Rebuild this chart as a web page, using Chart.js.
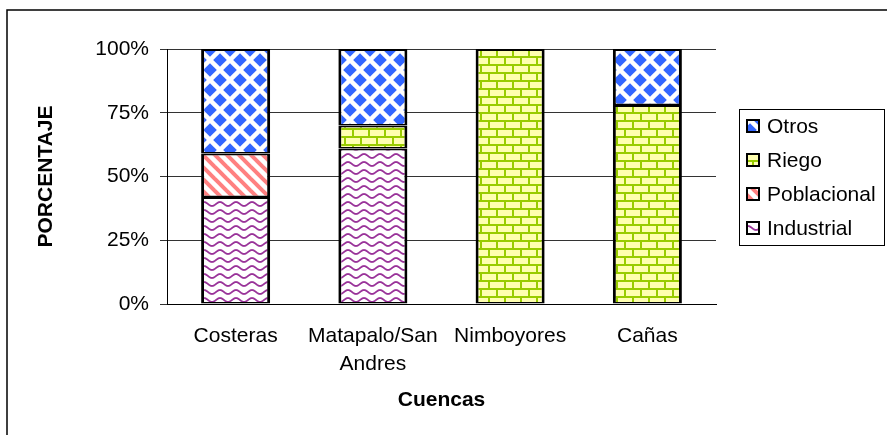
<!DOCTYPE html>
<html>
<head>
<meta charset="utf-8">
<script src="https://cdn.jsdelivr.net/npm/chart.js@4.4.0/dist/chart.umd.min.js"></script>
<style>
  body { margin: 0; background: #fff; }
  canvas { display: block; }
</style>
</head>
<body>
<canvas id="usoChart" width="887" height="435"></canvas>
<script>
// Uso del agua por cuenca (porcentaje)
const cuencas = ['Costeras', ['Matapalo/San', 'Andres'], 'Nimboyores', 'Cañas'];
const industrial = [42, 61, null, null];
const poblacional = [17, null, null, null];
const riego = [null, 9, 100, 78];
const otros = [41, 30, null, 22];
const yTicks = [0, 25, 50, 75, 100];

const family = "'Liberation Sans', Arial, sans-serif";

// small repeating tiles used as bar fills
function makeTile(w, h, draw) {
    const c = document.createElement('canvas');
    c.width = w;
    c.height = h;
    const g = c.getContext('2d');
    draw(g, w, h);
    return g.createPattern(c, 'repeat');
}

const otrosFill = makeTile(20, 20, (g, w, h) => {
    g.fillStyle = '#fff';
    g.fillRect(0, 0, w, h);
    g.fillStyle = '#3366ff';
    const d = 6.8;
    [[0, 0], [20, 0], [0, 20], [20, 20], [10, 10]].forEach(([cx, cy]) => {
        g.beginPath();
        g.moveTo(cx, cy - d);
        g.lineTo(cx + d, cy);
        g.lineTo(cx, cy + d);
        g.lineTo(cx - d, cy);
        g.closePath();
        g.fill();
    });
});

const poblacionalFill = makeTile(12, 12, (g, w, h) => {
    g.fillStyle = '#fff';
    g.fillRect(0, 0, w, h);
    g.strokeStyle = '#ff8080';
    g.lineWidth = 4;
    for (let k = -12; k <= 12; k += 12) {
        g.beginPath();
        g.moveTo(k - 2, -2);
        g.lineTo(k + 14, 14);
        g.stroke();
    }
});

const riegoFill = makeTile(16, 16, (g, w, h) => {
    g.fillStyle = '#ffffb0';
    g.fillRect(0, 0, w, h);
    g.fillStyle = '#99cc00';
    g.fillRect(0, 0, 16, 2);
    g.fillRect(0, 8, 16, 2);
    g.fillRect(0, 0, 2, 8);
    g.fillRect(8, 8, 2, 8);
});

const industrialFill = makeTile(16, 8, (g, w, h) => {
    g.fillStyle = '#fff';
    g.fillRect(0, 0, w, h);
    g.strokeStyle = '#993399';
    g.lineWidth = 1.8;
    g.beginPath();
    for (let x = -1; x <= 17; x += 0.5) {
        const y = 4 + 2 * Math.sin(x / 16 * 2 * Math.PI);
        if (x === -1) g.moveTo(x, y); else g.lineTo(x, y);
    }
    g.stroke();
});

// thinner top/bottom so the seams between stacked segments stay slim
const barStyle = {
    borderColor: '#000',
    borderWidth: { top: 2, bottom: 1.5, left: 3, right: 3 },
    borderSkipped: false,
    barPercentage: 1,
    categoryPercentage: 0.503
};

// legend box on the right plus the outer frame
const cajaLeyenda = {
    id: 'cajaLeyenda',
    afterDraw(chart) {
        const ctx = chart.ctx;
        ctx.save();
        ctx.strokeStyle = '#000';
        ctx.lineWidth = 1.5;
        ctx.strokeRect(7, 10, 900, 500);

        ctx.lineWidth = 1;
        ctx.strokeRect(739.5, 109.5, 145, 136);

        ctx.font = '21px ' + family;
        ctx.textBaseline = 'middle';
        chart.data.datasets.slice().reverse().forEach((ds, i) => {
            const y = 126 + i * 34;
            ctx.fillStyle = ds.backgroundColor;
            ctx.fillRect(747, y - 6, 12, 12);
            ctx.strokeStyle = '#000';
            ctx.lineWidth = 2;
            ctx.strokeRect(747, y - 6, 12, 12);
            ctx.fillStyle = '#000';
            ctx.fillText(ds.label, 767, y + 1);
        });
        ctx.restore();
    }
};

let ctx = document.getElementById('usoChart').getContext('2d');
let usoChart = new Chart(ctx, {
    type: 'bar',
    data: {
        labels: cuencas,
        datasets: [
            { label: 'Industrial', data: industrial, backgroundColor: industrialFill, ...barStyle },
            { label: 'Poblacional', data: poblacional, backgroundColor: poblacionalFill, ...barStyle },
            { label: 'Riego', data: riego, backgroundColor: riegoFill, ...barStyle },
            { label: 'Otros', data: otros, backgroundColor: otrosFill, ...barStyle }
        ]
    },
    options: {
        responsive: false,
        animation: false,
        layout: { padding: { left: 0, top: 49, right: 171, bottom: 0 } },
        plugins: {
            legend: { display: false },
            tooltip: { enabled: false }
        },
        scales: {
            x: {
                stacked: true,
                grid: { display: false, drawTicks: false },
                border: { display: true, color: '#000', width: 1 },
                ticks: {
                    color: '#000',
                    font: { size: 21, family: family, lineHeight: 1.35 },
                    padding: 18,
                    maxRotation: 0,
                    autoSkip: false
                },
                title: {
                    display: true,
                    text: 'Cuencas',
                    color: '#000',
                    font: { size: 21, weight: 'bold', family: family },
                    padding: { top: 0, bottom: 22 }
                },
                afterFit: (s) => { s.height = 131; }
            },
            y: {
                stacked: true,
                min: 0,
                max: 100,
                afterBuildTicks: (s) => { s.ticks = yTicks.map(v => ({ value: v })); },
                grid: { color: '#333', lineWidth: 1, tickLength: 7 },
                border: { display: true, color: '#000', width: 1 },
                ticks: {
                    color: '#000',
                    font: { size: 21, family: family },
                    padding: 11,
                    callback: (v) => v + '%'
                },
                title: {
                    display: true,
                    text: 'PORCENTAJE',
                    color: '#000',
                    font: { size: 21, weight: 'bold', family: family },
                    padding: { top: 34, bottom: 0 }
                },
                afterFit: (s) => { s.width = 167; }
            }
        }
    },
    plugins: [cajaLeyenda]
});
</script>
</body>
</html>
